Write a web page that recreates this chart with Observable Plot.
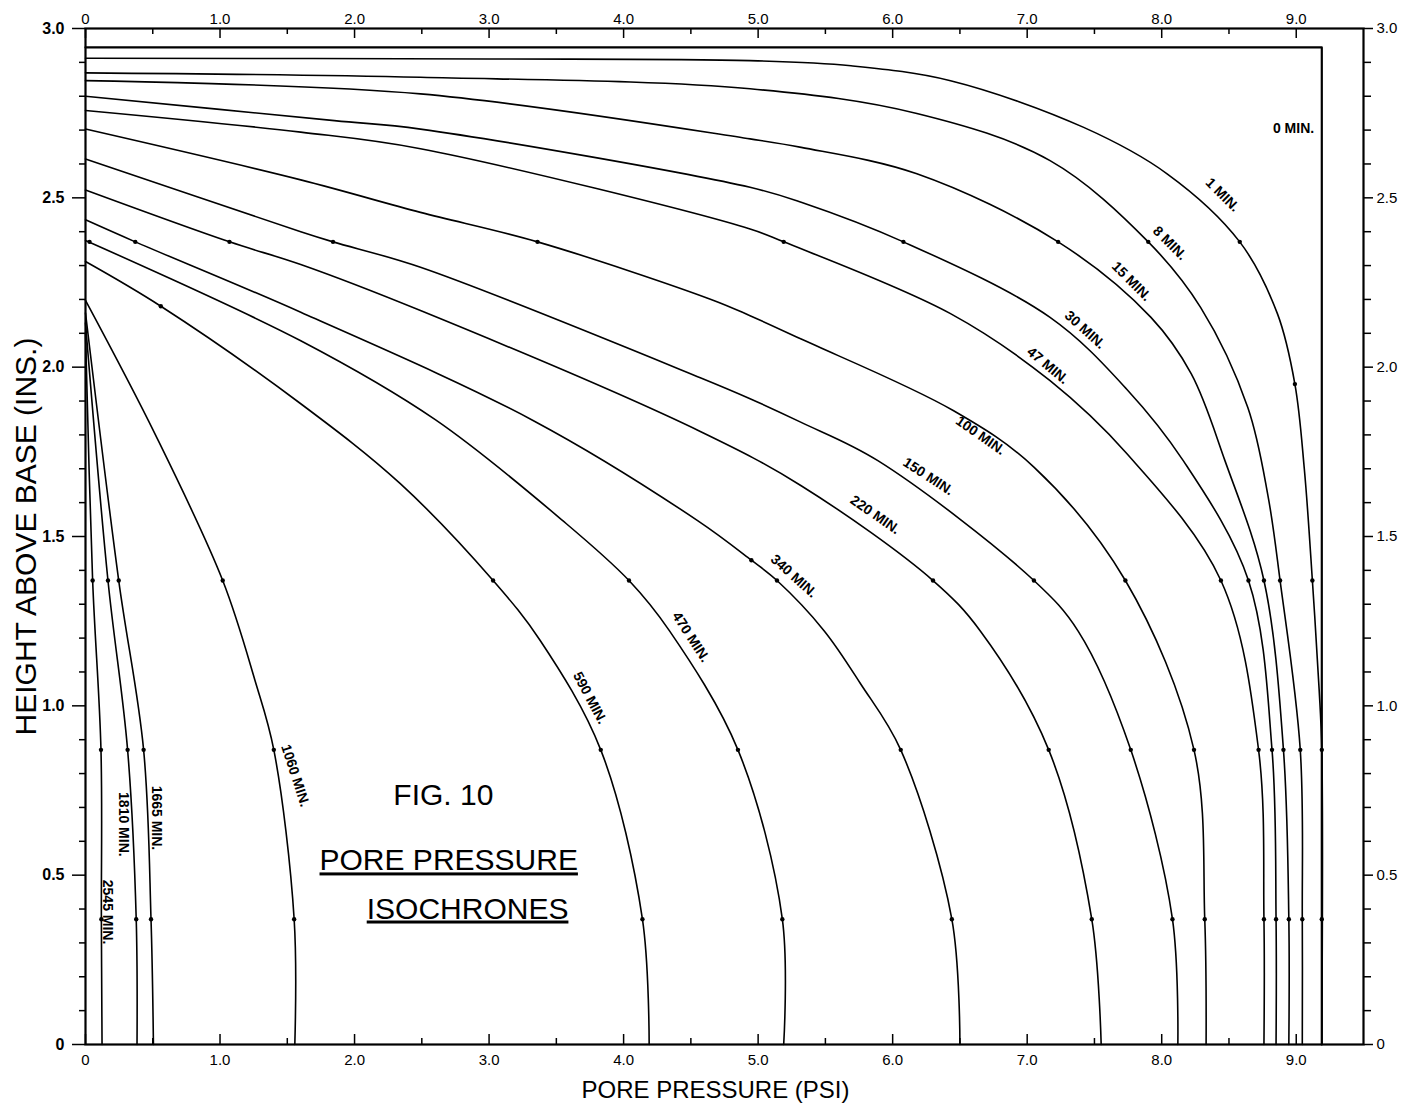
<!DOCTYPE html>
<html>
<head>
<meta charset="utf-8">
<title>Fig. 10 Pore Pressure Isochrones</title>
<script src="https://cdn.jsdelivr.net/npm/d3@7"></script>
<script src="https://cdn.jsdelivr.net/npm/@observablehq/plot@0.6"></script>
<style>
  html, body { margin: 0; padding: 0; background: #fff; }
  #chart svg { display: block; }
</style>
</head>
<body>
<div id="chart"></div>
<script>
// ---- Data: pore pressure u (psi) vs height above base z (in.) ----
const iso0 = [[0, 2.944], [9.19, 2.944], [9.19, 0]];
const iso1 = [[0, 2.912], [3.0, 2.91], [4.94, 2.905], [5.69, 2.89], [6.43, 2.846], [7.42, 2.708], [8.04, 2.571], [8.58, 2.37], [8.86, 2.158], [8.99, 1.95], [9.06, 1.70], [9.12, 1.37], [9.17, 1.05], [9.19, 0.87], [9.19, 0]];
const iso8 = [[0, 2.869], [2.49, 2.856], [4.94, 2.822], [6.18, 2.749], [7.17, 2.61], [7.90, 2.37], [8.29, 2.176], [8.64, 1.881], [8.79, 1.62], [8.88, 1.37], [9.03, 0.87], [9.045, 0.37], [9.045, 0]];
const iso15 = [[0, 2.846], [2.49, 2.807], [4.94, 2.674], [5.32, 2.649], [6.18, 2.571], [7.23, 2.37], [7.92, 2.147], [8.22, 1.98], [8.47, 1.724], [8.76, 1.37], [8.905, 0.87], [8.945, 0.37], [8.945, 0]];
const iso30 = [[0, 2.80], [1.85, 2.728], [2.49, 2.703], [4.94, 2.531], [5.32, 2.487], [6.08, 2.37], [7.17, 2.147], [7.74, 1.935], [8.16, 1.724], [8.645, 1.37], [8.82, 0.87], [8.85, 0.37], [8.85, 0]];
const iso47 = [[0, 2.758], [1.6, 2.694], [2.49, 2.645], [4.94, 2.408], [5.19, 2.37], [6.43, 2.158], [7.17, 1.96], [7.74, 1.745], [8.44, 1.37], [8.72, 0.87], [8.76, 0.37], [8.76, 0]];
const iso100 = [[0, 2.703], [1.6, 2.553], [2.49, 2.457], [3.36, 2.37], [4.65, 2.20], [4.94, 2.152], [5.32, 2.083], [6.45, 1.872], [7.05, 1.705], [7.73, 1.37], [8.24, 0.87], [8.32, 0.37], [8.33, 0]];
const iso150 = [[0, 2.615], [1.6, 2.40], [1.84, 2.37], [2.49, 2.295], [4.57, 1.969], [4.94, 1.907], [5.32, 1.837], [5.89, 1.724], [7.05, 1.37], [7.38, 1.22], [7.77, 0.87], [8.08, 0.37], [8.12, 0]];
const iso220 = [[0, 2.523], [1.07, 2.37], [1.6, 2.303], [2.49, 2.167], [4.57, 1.81], [5.32, 1.65], [6.30, 1.37], [6.65, 1.222], [7.16, 0.87], [7.48, 0.37], [7.55, 0]];
const iso340 = [[0, 2.435], [0.37, 2.37], [1.6, 2.162], [3.33, 1.842], [4.55, 1.547], [4.95, 1.43], [5.14, 1.37], [5.49, 1.222], [5.76, 1.066], [6.06, 0.87], [6.44, 0.37], [6.50, 0]];
const iso470 = [[0, 2.374], [1.6, 2.078], [2.6, 1.845], [3.55, 1.546], [4.04, 1.37], [4.34, 1.222], [4.85, 0.87], [5.18, 0.37], [5.19, 0]];
const iso590 = [[0, 2.312], [0.56, 2.18], [1.6, 1.892], [2.34, 1.656], [3.03, 1.37], [3.38, 1.193], [3.83, 0.87], [4.14, 0.37], [4.19, 0]];
const iso1060 = [[0, 2.197], [0.52, 1.80], [1.02, 1.37], [1.26, 1.075], [1.40, 0.87], [1.551, 0.37], [1.556, 0]];
const iso1665 = [[0, 2.16], [0.247, 1.37], [0.432, 0.87], [0.487, 0.37], [0.505, 0]];
const iso1810 = [[0, 2.13], [0.167, 1.37], [0.313, 0.87], [0.377, 0.37], [0.383, 0]];
const iso2545 = [[0, 2.10], [0.053, 1.37], [0.115, 0.87], [0.118, 0.37], [0.123, 0]];

// measured points (dots)
const pts1 = [[8.58, 2.37], [8.99, 1.95], [9.12, 1.37], [9.19, 0.87], [9.19, 0.37]];
const pts8 = [[7.90, 2.37], [8.88, 1.37], [9.03, 0.87], [9.045, 0.37]];
const pts15 = [[7.23, 2.37], [8.76, 1.37], [8.905, 0.87], [8.945, 0.37]];
const pts30 = [[6.08, 2.37], [8.645, 1.37], [8.82, 0.87], [8.85, 0.37]];
const pts47 = [[5.19, 2.37], [8.44, 1.37], [8.72, 0.87], [8.76, 0.37]];
const pts100 = [[3.36, 2.37], [7.73, 1.37], [8.24, 0.87], [8.32, 0.37]];
const pts150 = [[1.84, 2.37], [7.05, 1.37], [7.77, 0.87], [8.08, 0.37]];
const pts220 = [[1.07, 2.37], [6.30, 1.37], [7.16, 0.87], [7.48, 0.37]];
const pts340 = [[0.37, 2.37], [4.95, 1.43], [5.14, 1.37], [6.06, 0.87], [6.44, 0.37]];
const pts470 = [[0.03, 2.37], [4.04, 1.37], [4.85, 0.87], [5.18, 0.37]];
const pts590 = [[0.56, 2.18], [3.03, 1.37], [3.83, 0.87], [4.14, 0.37]];
const pts1060 = [[1.02, 1.37], [1.40, 0.87], [1.551, 0.37]];
const pts1665 = [[0.247, 1.37], [0.432, 0.87], [0.487, 0.37]];
const pts1810 = [[0.167, 1.37], [0.313, 0.87], [0.377, 0.37]];
const pts2545 = [[0.053, 1.37], [0.115, 0.87], [0.118, 0.37]];

// curve labels
const labelText = ["0 MIN.", "1 MIN.", "8 MIN.", "15 MIN.", "30 MIN.", "47 MIN.", "100 MIN.", "150 MIN.", "220 MIN.", "340 MIN.", "470 MIN.", "590 MIN.", "1060 MIN.", "1665 MIN.", "1810 MIN.", "2545 MIN."];
const labelU = [8.98, 8.452, 8.06, 7.775, 7.43, 7.153, 6.653, 6.265, 5.87, 5.265, 4.50, 3.75, 1.56, 0.53, 0.28, 0.163];
const labelZ = [2.706, 2.509, 2.366, 2.253, 2.11, 2.005, 1.798, 1.677, 1.564, 1.383, 1.203, 1.023, 0.794, 0.669, 0.65, 0.391];
const labelAngle = [0, 45, 45, 45, 42, 40, 35, 33, 35, 42, 57, 62, 72, 90, 90, 90];

// figure title block
const noteText = ["FIG. 10", "PORE PRESSURE", "ISOCHRONES"];
const noteU = [2.66, 2.70, 2.84];
const noteZ = [0.706, 0.514, 0.372];

// ticks
const xTickValues = [0, 1, 2, 3, 4, 5, 6, 7, 8, 9];
const xTickLabels = ["0", "1.0", "2.0", "3.0", "4.0", "5.0", "6.0", "7.0", "8.0", "9.0"];
const xHalfTicks = [0.5, 1.5, 2.5, 3.5, 4.5, 5.5, 6.5, 7.5, 8.5];
const yTickValues = [0, 0.5, 1.0, 1.5, 2.0, 2.5, 3.0];
const yTickLabels = ["0", "0.5", "1.0", "1.5", "2.0", "2.5", "3.0"];
const yMinorTicks = d3.range(0, 31).filter(i => i % 5 !== 0).map(i => i / 10);

// ---- Build tables ----
const curveList = [
  ["1 MIN.", iso1], ["8 MIN.", iso8], ["15 MIN.", iso15], ["30 MIN.", iso30], ["47 MIN.", iso47],
  ["100 MIN.", iso100], ["150 MIN.", iso150], ["220 MIN.", iso220], ["340 MIN.", iso340],
  ["470 MIN.", iso470], ["590 MIN.", iso590], ["1060 MIN.", iso1060], ["1665 MIN.", iso1665],
  ["1810 MIN.", iso1810], ["2545 MIN.", iso2545]
];
const curveRows = curveList.flatMap(([t, pts]) => pts.map(([u, z]) => ({t, u, z})));
const zeroRows = iso0.map(([u, z]) => ({t: "0 MIN.", u, z}));
const dotRows = [pts1, pts8, pts15, pts30, pts47, pts100, pts150, pts220, pts340, pts470, pts590, pts1060, pts1665, pts1810, pts2545]
  .flatMap(p => p.map(([u, z]) => ({u, z})));
const labelRows = labelText.map((t, i) => ({t, u: labelU[i], z: labelZ[i], a: labelAngle[i]}));
const noteRows = noteText.map((t, i) => ({t, u: noteU[i], z: noteZ[i]}));

const FONT = "'Liberation Sans', Arial, sans-serif";
const plotH = 1106 - 28 - 62;

const chart = Plot.plot({
  width: 1409,
  height: 1106,
  marginLeft: 85,
  marginRight: 46,
  marginTop: 28,
  marginBottom: 62,
  x: {domain: [0, 9.5], axis: null},
  y: {domain: [0, 3], axis: null},
  style: {background: "#fff", color: "#000", fontFamily: FONT},
  marks: [
    // inward ticks on bottom & top
    Plot.tickX(xTickValues, {x: d => d, insetTop: plotH - 10, stroke: "#000", strokeWidth: 1.5}),
    Plot.tickX(xHalfTicks, {x: d => d, insetTop: plotH - 6, stroke: "#000", strokeWidth: 1.5}),
    Plot.tickX(xTickValues, {x: d => d, insetBottom: plotH - 10, stroke: "#000", strokeWidth: 1.5}),
    Plot.tickX(xHalfTicks, {x: d => d, insetBottom: plotH - 6, stroke: "#000", strokeWidth: 1.5}),
    // x labels
    Plot.axisX(xTickValues, {anchor: "bottom", label: null, tickSize: 0, tickPadding: 10, fontSize: 15,
      tickFormat: d => xTickLabels[xTickValues.indexOf(d)]}),
    Plot.axisX(xTickValues, {anchor: "top", label: null, tickSize: 0, tickPadding: 5, fontSize: 15,
      tickFormat: d => xTickLabels[xTickValues.indexOf(d)]}),
    // y axes
    Plot.axisY(yMinorTicks, {anchor: "left", label: null, tickSize: 6, strokeWidth: 1.5, fill: "none"}),
    Plot.axisY(yTickValues, {anchor: "left", label: null, tickSize: 13, strokeWidth: 1.5, tickPadding: 8, fontSize: 16, fontWeight: "bold",
      tickFormat: d => yTickLabels[yTickValues.indexOf(d)]}),
    Plot.axisY(yMinorTicks, {anchor: "right", label: null, tickSize: 7, strokeWidth: 1.5, fill: "none"}),
    Plot.axisY(yTickValues, {anchor: "right", label: null, tickSize: 9, strokeWidth: 1.5, tickPadding: 4, fontSize: 15,
      tickFormat: d => yTickLabels[yTickValues.indexOf(d)]}),
    Plot.frame({stroke: "#000", strokeWidth: 2.2}),
    // isochrones
    Plot.line(zeroRows, {x: "u", y: "z", stroke: "#000", strokeWidth: 2.2}),
    Plot.line(curveRows, {x: "u", y: "z", z: "t", curve: "catmull-rom", stroke: "#000", strokeWidth: 1.6}),
    Plot.dot(dotRows, {x: "u", y: "z", r: 2.2, fill: "#000", stroke: null}),
    // curve labels
    Plot.text(labelRows, {x: "u", y: "z", text: "t", rotate: "a", fontSize: 14, fontWeight: "bold",
      fontFamily: FONT, fill: "#000", textAnchor: "middle", lineAnchor: "middle"}),
    // title block
    Plot.text(noteRows, {x: "u", y: "z", text: "t", fontSize: 30, fontFamily: FONT, fill: "#000",
      textAnchor: "middle", lineAnchor: "bottom"}),
    // axis titles
    Plot.text(["HEIGHT ABOVE BASE (INS.)"], {frameAnchor: "left", dx: -59, rotate: -90, fontSize: 30,
      fontFamily: FONT, fill: "#000", textAnchor: "middle", lineAnchor: "middle"}),
    Plot.text(["PORE PRESSURE (PSI)"], {frameAnchor: "bottom", dx: -9, dy: 46, fontSize: 24,
      fontFamily: FONT, fill: "#000", textAnchor: "middle", lineAnchor: "middle"})
  ]
});

document.getElementById("chart").appendChild(chart);

// underline the title block lines
d3.select(chart).selectAll("text").each(function () {
  const s = this.textContent;
  if (s === "PORE PRESSURE" || s === "ISOCHRONES") {
    this.style.textDecoration = "underline";
    this.style.textDecorationThickness = "2px";
    this.style.textUnderlineOffset = "5px";
  }
});
</script>
</body>
</html>
